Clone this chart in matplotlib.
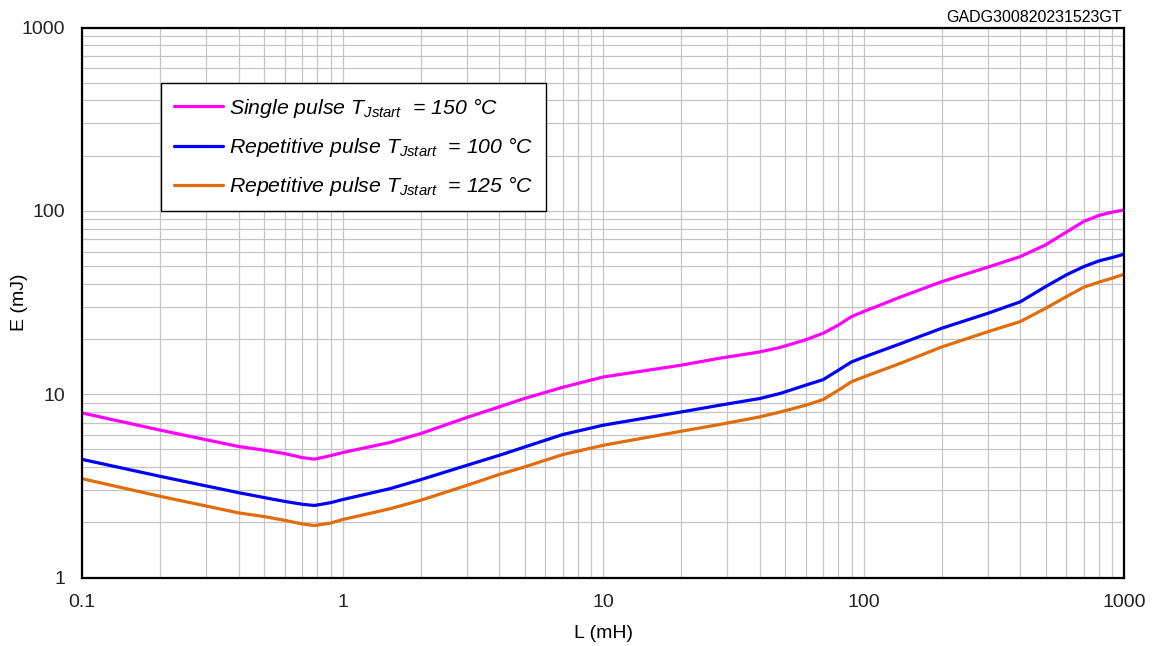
import matplotlib
matplotlib.use("Agg")
import matplotlib.pyplot as plt
from matplotlib.ticker import LogLocator, FixedLocator, FixedFormatter, NullFormatter

plt.rcParams['font.family'] = ['Liberation Sans', 'DejaVu Sans']
plt.rcParams['mathtext.fontset'] = 'custom'
plt.rcParams['mathtext.it'] = 'Liberation Sans:italic'
plt.rcParams['mathtext.rm'] = 'Liberation Sans'

L_mH = [0.1, 0.2, 0.4, 0.5, 0.6, 0.7, 0.78, 0.9, 1.0, 1.52, 2, 3, 4, 5, 7, 10, 20, 28,
        40, 48, 60, 70, 80, 90, 100, 138, 200, 300, 400, 500, 600, 700, 800, 900, 1000]
E_single_150 = [7.9, 6.36, 5.18, 4.95, 4.74, 4.51, 4.42, 4.62, 4.80, 5.45, 6.10, 7.46, 8.53,
                9.48, 10.9, 12.4, 14.4, 15.7, 17.0, 18.0, 19.8, 21.5, 23.8, 26.5, 28.2, 33.8,
                41.1, 49.3, 56.3, 65.2, 76.5, 87.5, 94.3, 98.4, 101]
E_rep_100 = [4.41, 3.56, 2.90, 2.73, 2.60, 2.51, 2.47, 2.56, 2.66, 3.05, 3.42, 4.09, 4.64,
             5.15, 6.02, 6.77, 8.0, 8.7, 9.47, 10.1, 11.2, 12.0, 13.5, 15.0, 15.9, 18.8,
             22.9, 27.6, 31.9, 38.6, 44.7, 49.6, 53.3, 55.6, 58.0]
E_rep_125 = [3.46, 2.77, 2.25, 2.15, 2.05, 1.96, 1.92, 1.98, 2.07, 2.37, 2.64, 3.18, 3.65,
             4.01, 4.68, 5.26, 6.28, 6.83, 7.52, 8.0, 8.7, 9.35, 10.5, 11.7, 12.4, 14.7,
             18.1, 21.9, 24.9, 29.4, 34.0, 38.3, 40.8, 42.9, 45.1]

labels = [r'Single pulse $T_{Jstart}$  = 150 °C',
          r'Repetitive pulse $T_{Jstart}$  = 100 °C',
          r'Repetitive pulse $T_{Jstart}$  = 125 °C']
colors = ['#FF00FF', '#0000FF', '#E36C0A']

x_ticks = [0.1, 1, 10, 100, 1000]
x_ticklabels = ['0.1', '1', '10', '100', '1000']
y_ticks = [1, 10, 100, 1000]
y_ticklabels = ['1', '10', '100', '1000']

fig = plt.figure(figsize=(11.59, 6.46), dpi=100)
ax = fig.add_axes([82/1159, 1 - 577.5/646, (1124 - 82)/1159, (577.5 - 27.5)/646])

for y, lab, c in zip([E_single_150, E_rep_100, E_rep_125], labels, colors):
    ax.plot(L_mH, y, color=c, lw=2.3, label=lab, solid_capstyle='round', solid_joinstyle='round')

ax.set_xscale('log')
ax.set_yscale('log')
ax.set_xlim(0.1, 1000)
ax.set_ylim(1, 1000)

ax.xaxis.set_major_locator(FixedLocator(x_ticks))
ax.xaxis.set_major_formatter(FixedFormatter(x_ticklabels))
ax.yaxis.set_major_locator(FixedLocator(y_ticks))
ax.yaxis.set_major_formatter(FixedFormatter(y_ticklabels))
ax.xaxis.set_minor_locator(LogLocator(base=10, subs=range(2, 10), numticks=20))
ax.yaxis.set_minor_locator(LogLocator(base=10, subs=range(2, 10), numticks=20))
ax.xaxis.set_minor_formatter(NullFormatter())
ax.yaxis.set_minor_formatter(NullFormatter())

ax.grid(True, which='both', color='#c4c4c4', lw=0.9)
ax.set_axisbelow(True)
ax.tick_params(which='both', length=0, labelsize=14, pad=12, colors='#222222')

for s in ax.spines.values():
    s.set_linewidth(1.6)
    s.set_color('black')

ax.set_xlabel('L (mH)', fontsize=14, labelpad=10)
ax.set_ylabel('E (mJ)', fontsize=14)
ax.yaxis.set_label_coords(-54/1042, 0.5)

leg = ax.legend(loc='upper left', bbox_to_anchor=(161/1159, 1 - 83/646),
                bbox_transform=fig.transFigure, frameon=True, fancybox=False,
                edgecolor='black', framealpha=1, handlelength=2.3, handletextpad=0.3,
                labelspacing=0.72, borderpad=0.6, borderaxespad=0,
                prop={'size': 15.3, 'style': 'italic'})
leg.get_frame().set_linewidth(1.0)

fig.text(1122/1159, 1 - 17/646, 'GADG300820231523GT', ha='right', va='center', fontsize=11.5)

fig.savefig('out.png', dpi=100)
